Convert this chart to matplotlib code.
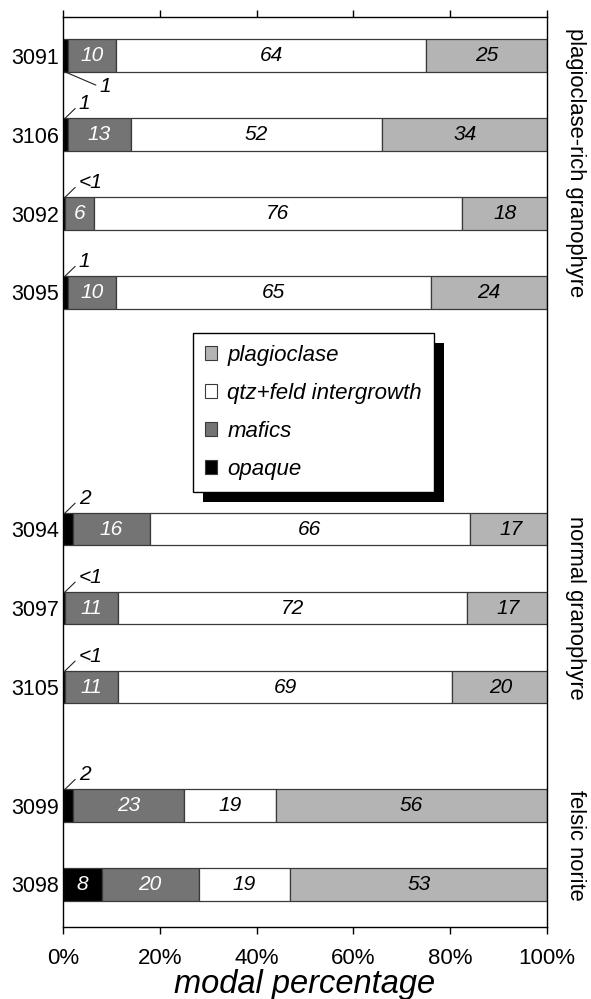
import matplotlib
matplotlib.use("Agg")
import matplotlib.pyplot as plt
from matplotlib.patches import Patch, Rectangle
from matplotlib.transforms import IdentityTransform

plt.rcParams['font.family'] = ['Liberation Sans', 'DejaVu Sans']

# Samples (top to bottom) and their vertical slots; gaps separate the rock groups
samples = ['3091', '3106', '3092', '3095', '3094', '3097', '3105', '3099', '3098']
slots = [0, 1, 2, 3, 6, 7, 8, 9.5, 10.5]

# Modal percentages per mineral class
opaque = [1, 1, 0.4, 1, 2, 0.4, 0.4, 2, 8]
opaque_text = ['1', '1', '<1', '1', '2', '<1', '<1', '2', '8']
mafics = [10, 13, 6, 10, 16, 11, 11, 23, 20]
qtz_feld = [64, 52, 76, 65, 66, 72, 69, 19, 19]
plagioclase = [25, 34, 18, 24, 17, 17, 20, 56, 53]

groups = ['plagioclase-rich granophyre', 'normal granophyre', 'felsic norite']
group_centers = [1.35, 7, 10]

classes = ['opaque', 'mafics', 'qtz+feld intergrowth', 'plagioclase']
colors = {'opaque': '#000000', 'mafics': '#747474',
          'qtz+feld intergrowth': '#ffffff', 'plagioclase': '#b4b4b4'}
text_colors = {'opaque': 'white', 'mafics': 'white',
               'qtz+feld intergrowth': 'black', 'plagioclase': 'black'}

fig = plt.figure(figsize=(5.91, 9.99), dpi=100)
ax = fig.add_axes([0.1066, 0.072, 0.8189, 0.911])

bar_h = 0.41
series = [opaque, mafics, qtz_feld, plagioclase]
left = [0.0] * len(samples)
for name, vals in zip(classes, series):
    ax.barh(slots, vals, left=left, height=bar_h, color=colors[name],
            edgecolor='#3a3a3a', linewidth=0.9, zorder=2)
    for i, v in enumerate(vals):
        if v >= 5:
            ax.text(left[i] + v / 2, slots[i], f'{v:g}', ha='center', va='center',
                    fontsize=15, style='italic', color=text_colors[name], zorder=3)
    left = [l + v for l, v in zip(left, vals)]

# Leader lines for the small opaque fractions
for i, v in enumerate(opaque):
    if v >= 5:
        continue
    if i == 0:
        ax.annotate(opaque_text[i], xy=(0.4, slots[i] + bar_h / 2),
                    xytext=(35, -15), textcoords='offset pixels',
                    ha='left', va='center', fontsize=15, style='italic',
                    arrowprops=dict(arrowstyle='-', lw=0.8, color='#222222',
                                    shrinkA=1, shrinkB=0, relpos=(0, 0.5)))
    else:
        ax.annotate(opaque_text[i], xy=(0.4, slots[i] - bar_h / 2),
                    xytext=(14, 5), textcoords='offset pixels',
                    ha='left', va='bottom', fontsize=15, style='italic',
                    arrowprops=dict(arrowstyle='-', lw=0.8, color='#222222',
                                    shrinkA=1, shrinkB=0, relpos=(0, 0.45)))

ax.set_xlim(0, 100)
ax.set_ylim(11.04, -0.49)
ax.set_yticks(slots)
ax.set_yticklabels(samples, fontsize=15.5)
ax.tick_params(axis='y', length=0, pad=3)
ax.set_xticks([0, 20, 40, 60, 80, 100])
ax.set_xticklabels(['0%', '20%', '40%', '60%', '80%', '100%'], fontsize=16)
ax.tick_params(axis='x', direction='out', length=5, width=1, top=True,
               labeltop=False, pad=10)
for s in ax.spines.values():
    s.set_linewidth(1)
ax.set_xlabel('modal percentage', fontsize=23.5, style='italic', labelpad=0)

for g, c in zip(groups, group_centers):
    ax.text(1.058, c, g, transform=ax.get_yaxis_transform(), rotation=-90,
            ha='center', va='center', fontsize=15.8)

handles = [Patch(facecolor=colors[n], edgecolor='#3a3a3a', linewidth=0.8)
           for n in ['plagioclase', 'qtz+feld intergrowth', 'mafics', 'opaque']]
leg = ax.legend(handles, ['plagioclase', 'qtz+feld intergrowth', 'mafics', 'opaque'],
                loc='upper left', bbox_to_anchor=(0.2686, 0.653), borderaxespad=0,
                fancybox=False, framealpha=1, edgecolor='black',
                prop={'size': 16, 'style': 'italic'},
                handlelength=0.55, handleheight=0.55, handletextpad=0.45,
                labelspacing=0.76, borderpad=0.55)
leg.get_frame().set_linewidth(1)
leg.set_zorder(6)

# Solid drop shadow behind the legend box
fig.canvas.draw()
bb = leg.get_frame().get_window_extent()
ax.add_patch(Rectangle((bb.x0 + 10, bb.y0 - 10), bb.width, bb.height,
                       transform=IdentityTransform(), facecolor='black',
                       edgecolor='none', clip_on=False, zorder=5))

fig.savefig('out.png', dpi=100)
